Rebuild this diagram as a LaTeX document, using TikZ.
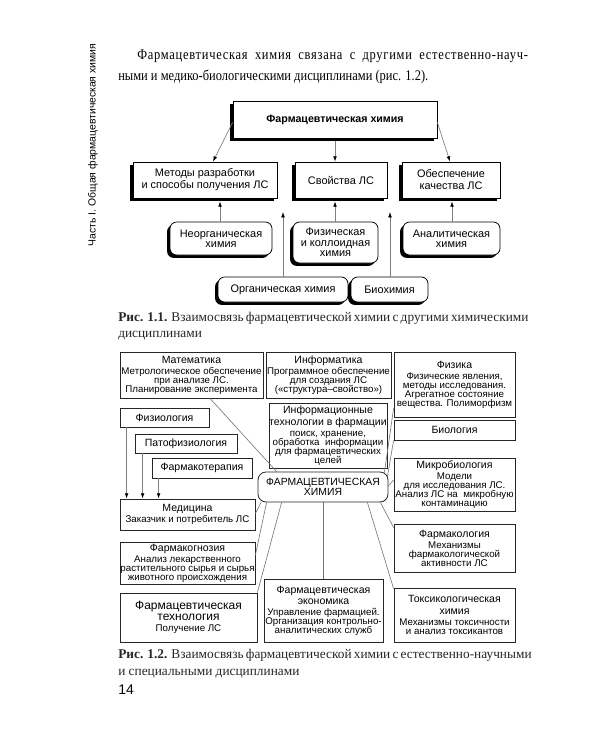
\documentclass[tikz,border=0pt]{standalone}
\usepackage{fontspec}
\setmainfont{Liberation Serif}
\setsansfont{Liberation Sans}
\newfontfamily\bodyf[FakeStretch=0.85]{Liberation Serif}
\newfontfamily\bodyls[FakeStretch=0.85,LetterSpace=5]{Liberation Serif}
\usetikzlibrary{calc,shadows,arrows.meta}
\newcommand\ttl{\sffamily\fontsize{7.9}{8}\selectfont}
\newcommand\ttlb{\sffamily\fontsize{9}{9}\selectfont}
\newcommand\dsc{\sffamily\fontsize{7.3}{6.8}\selectfont\lineskiplimit=-5pt\relax}
\newcommand\fa{\sffamily\fontsize{8.2}{9}\selectfont\lineskiplimit=-5pt\relax}
\newcommand\fb{\sffamily\fontsize{8.2}{7.8}\selectfont\lineskiplimit=-5pt\relax}
\newcommand\fc{\sffamily\fontsize{7.8}{7}\selectfont\lineskiplimit=-5pt\relax}
\begin{document}
\begin{tikzpicture}[x=0.75pt,y=-0.75pt,
  wh/.style 2 args={minimum width=#1*0.75pt, minimum height=#2*0.75pt},
  sh/.style={draw=black, line width=0.6pt, fill=white, inner sep=0pt, align=center,
     font=\fa,
     drop shadow={shadow xshift=-2.2pt, shadow yshift=-2.2pt, fill=black, opacity=1}},
  shr/.style={sh, rounded corners=5pt, font=\fb},
  bx/.style={draw=black!85, line width=0.6pt, fill=white, inner sep=0pt, align=center, font=\dsc},
  arr/.style={draw=black!50, line width=0.5pt, -{Latex[length=4pt,width=2.8pt,black]}},
  ln/.style={draw=black!55, line width=0.45pt},
  body/.style={anchor=base west, inner sep=0pt, font=\bodyf\fontsize{11}{13}\selectfont},
  capt/.style={anchor=base west, inner sep=0pt, font=\fontsize{10}{12}\selectfont, text=black!85},
]
\useasboundingbox (0,0) rectangle (600,750);
\fill[white] (0,0) rectangle (600,750);

% side running head and body text
\node[rotate=90, inner sep=0pt, font=\sffamily\fontsize{7.8}{9}\selectfont] (side) at (93,145) {Часть I. Общая фармацевтическая химия};
\node[body, font=\bodyls\fontsize{11}{13}\selectfont] (p1) at (137,59) {\makebox[293pt][s]{Фармацевтическая химия связана с другими естественно-науч-}};
\node[body] (p2) at (118,80) {ными и медико-биологическими дисциплинами (рис. 1.2).};

% ---------- Fig 1.1 ----------
\node[sh, wh={204}{37}, font=\sffamily\bfseries\fontsize{8}{9}\selectfont] (top) at (335,119.5) {Фармацевтическая химия};
\node[sh, wh={144}{36}] (m1) at (205,180) {Методы разработки\\и способы получения ЛС};
\node[sh, wh={92}{36}] (m2) at (341,180) {Свойства ЛС};
\node[sh, wh={98}{36}] (m3) at (451,180) {Обеспечение\\качества ЛС};
\node[shr, wh={102}{33}] (c1) at (221,238.5) {Неорганическая\\химия};
\node[shr, wh={85}{41}] (c2) at (335.5,242.5) {Физическая\\и коллоидная\\химия};
\node[shr, wh={97}{33}] (c3) at (451.5,238.5) {Аналитическая\\химия};
\node[shr, wh={130}{25}] (c4) at (283,289.5) {Органическая химия};
\node[shr, wh={77}{25}] (c5) at (389.5,289.5) {Биохимия};
\coordinate (f4) at (283,212);
\coordinate (f5) at (390,212);

\draw[arr] ($(top.west)+(0,3)$) -- ($(m1.north)+(8,0)$);
\draw[arr] ($(top.south)+(0,3)$) -- ($(m2.north)+(-6,0)$);
\draw[arr] ($(top.east)+(0,3)$) -- ($(m3.north)+(-1,0)$);
\draw[arr] ($(c1.north)+(-1,0)$) -- ($(m1.south)+(15,3)$);
\draw[arr] ($(c2.north)+(-0.5,0)$) -- ($(m2.south)+(-6,3)$);
\draw[arr] ($(c3.north)+(0.5,0)$) -- ($(m3.south)+(1,3)$);
\draw[arr] (c4.north) -- (f4);
\draw[arr] ($(c5.north)+(0.5,0)$) -- (f5);

\node[capt] (cap1a) at (118,321) {\makebox[306.75pt][s]{\textbf{Рис. 1.1.} Взаимосвязь фармацевтической химии с другими химическими}};
\node[capt] (cap1b) at (118,337) {дисциплинами};

% ---------- Fig 1.2 ----------
\node[bx, wh={143}{46}] (mat) at (191.5,375) {{\ttl Математика}\\[1.5pt]Метрологическое обеспечение\\при анализе ЛС.\\Планирование эксперимента};
\node[bx, wh={125}{46}] (inf) at (328.5,375) {{\ttl Информатика}\\[1.5pt]Программное обеспечение\\для создания ЛС\\(«структура–свойство»)};
\node[bx, wh={121}{65}] (fiz) at (454.5,384.5) {{\ttl Физика}\\[1.5pt]Физические явления,\\методы исследования.\\Агрегатное состояние\\вещества. Полиморфизм};
\node[bx, wh={118}{65}] (it) at (328,435.5) {{\ttl Информационные}\\[2.5pt]{\ttl технологии в фармации}\\[1.5pt]поиск, хранение,\\обработка\ \ информации\\для фармацевтических\\целей};
\node[bx, wh={89}{19}, font=\ttl] (fizio) at (164.5,417.5) {Физиология};
\node[bx, wh={121}{20}, font=\ttl] (bio) at (454.5,430) {Биология};
\node[bx, wh={102}{19}, font=\ttl] (pato) at (186,443.5) {Патофизиология};
\node[bx, wh={100}{20}, font=\ttl] (ftr) at (202,468) {Фармакотерапия};
\node[bx, wh={121}{53}] (micro) at (454.5,484.5) {{\ttl Микробиология}\\[1.5pt]Модели\\для исследования ЛС.\\Анализ ЛС на\ \ микробную\\контаминацию};
\node[bx, wh={130}{30}, rounded corners=6pt, font=\fc] (fch) at (323,487) {ФАРМАЦЕВТИЧЕСКАЯ\\ХИМИЯ};
\node[bx, wh={135}{31}] (med) at (187.5,514.5) {{\ttl Медицина}\\[1.5pt]Заказчик и потребитель ЛС};
\node[bx, wh={121}{48}] (fkl) at (454.5,548) {{\ttl Фармакология}\\[1.5pt]Механизмы\\фармакологической\\активности ЛС};
\node[bx, wh={135}{42}] (fgn) at (187.5,563) {{\ttl Фармакогнозия}\\[1.5pt]Анализ лекарственного\\растительного сырья и сырья\\животного происхождения};
\node[bx, wh={137}{49}] (ftech) at (188.5,617.5) {{\ttlb Фармацевтическая}\\[1.5pt]{\ttlb технология}\\[1.5pt]Получение ЛС};
\node[bx, wh={119}{63}] (fecon) at (323.5,610.5) {{\ttl Фармацевтическая}\\[1.5pt]{\ttl экономика}\\[1.5pt]Управление фармацией.\\Организация контрольно-\\аналитических служб};
\node[bx, wh={121}{54}] (tox) at (454.5,615) {{\ttl Токсикологическая}\\[1.5pt]{\ttl химия}\\[1.5pt]Механизмы токсичности\\и анализ токсикантов};

\draw[ln] ($(mat.south)+(18.5,0)$) -- ($(fch.north west)+(19,0)$);
\draw[ln, arr] ($(fizio.south west)+(7,0)$) -- ($(med.north west)+(7,0)$);
\draw[ln, arr] ($(pato.south west)+(8,0)$) -- ($(med.north west)+(23,0)$);
\draw[ln, arr] ($(ftr.south west)+(7,0)$) -- ($(med.north west)+(39,0)$);
\draw[ln] ($(fch.south west)+(3.5,0)$) -- ($(med.east)+(0,-1)$);
\draw[ln] ($(fch.south west)+(9,0)$) -- ($(fgn.east)+(0,-8)$);
\draw[ln] ($(fch.south west)+(24,0)$) -- (ftech.north east);
\draw[ln] (fch.south) -- (fch.south |- fecon.north);
\draw[ln] ($(fch.south east)+(-21,0)$) -- ($(tox.north west)+(0,1)$);
\draw[ln] ($(fch.south east)+(-8,0)$) -- ($(fkl.north west)+(0,4)$);
\draw[ln] ($(fch.east)+(0,-1)$) -- ($(micro.west)+(0,-4.5)$);
\draw[ln] ($(fch.north east)+(-1,5)$) -- (bio.south west);
\draw[ln] ($(fch.north east)+(-4,1)$) -- ($(fiz.south west)+(0,-9)$);

\node[capt] (cap2a) at (118,658) {\makebox[306.75pt][s]{\textbf{Рис. 1.2.} Взаимосвязь фармацевтической химии с естественно-научными}};
\node[capt] (cap2b) at (118,675) {и специальными дисциплинами};
\node[anchor=base west, inner sep=0pt, font=\sffamily\fontsize{10.5}{12}\selectfont] (pg) at (118,694) {14};
\end{tikzpicture}
\end{document}
